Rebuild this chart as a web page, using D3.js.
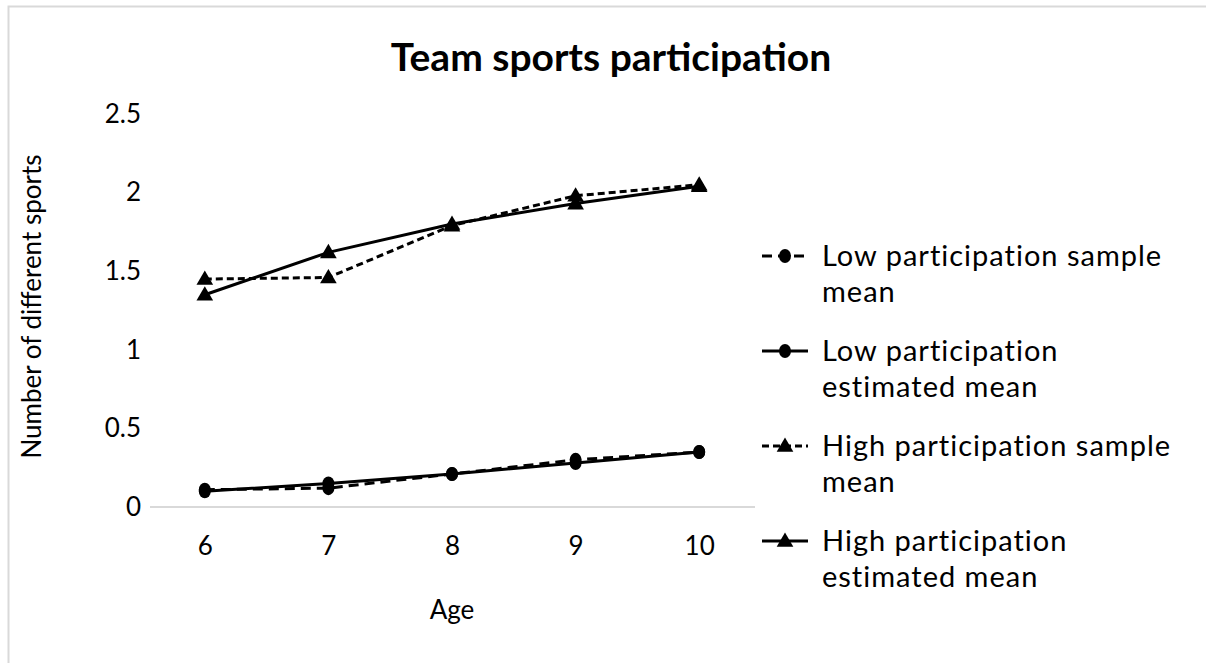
<!DOCTYPE html>
<html>
<head>
<meta charset="utf-8">
<script src="https://cdn.jsdelivr.net/npm/d3@7"></script>
<style>
  html, body { margin: 0; padding: 0; background: #fff; overflow: hidden; }
  svg { display: block; font-family: Lato, "Open Sans", sans-serif; }
</style>
</head>
<body>
<svg id="chart" width="1206" height="663"></svg>
<script>
// Ages on the x axis
const ages = ["6", "7", "8", "9", "10"];
// Mean number of different team sports per age
const lowSample = [0.11, 0.12, 0.21, 0.30, 0.35];
const lowEstimated = [0.10, 0.15, 0.21, 0.28, 0.35];
const highSample = [1.45, 1.46, 1.79, 1.98, 2.05];
const highEstimated = [1.35, 1.62, 1.80, 1.93, 2.04];
const yTicks = [0, 0.5, 1, 1.5, 2, 2.5];
const seriesNames = [
  ["Low participation sample", "mean"],
  ["Low participation", "estimated mean"],
  ["High participation sample", "mean"],
  ["High participation", "estimated mean"]
];

const series = [
  { values: lowSample, dash: "10,6", marker: "circle", name: seriesNames[0] },
  { values: lowEstimated, dash: null, marker: "circle", name: seriesNames[1] },
  { values: highSample, dash: "7,4", marker: "triangle", name: seriesNames[2] },
  { values: highEstimated, dash: null, marker: "triangle", name: seriesNames[3] }
];

const svg = d3.select("#chart");

// chart frame (runs off the right and bottom edges)
svg.append("rect")
  .attr("x", 8.5).attr("y", 6.5)
  .attr("width", 1300).attr("height", 800)
  .attr("fill", "#fff").attr("stroke", "#d9d9d9").attr("stroke-width", 2);

const plot = { left: 143, right: 761, top: 114, bottom: 507 };

const x = d3.scalePoint().domain(ages).range([plot.left, plot.right]).padding(0.5);
const y = d3.scaleLinear().domain([0, 2.5]).range([plot.bottom, plot.top]);

// title
svg.append("text")
  .attr("x", 611).attr("y", 71)
  .attr("text-anchor", "middle")
  .attr("font-size", 39).attr("font-weight", "bold")
  .attr("fill", "#000")
  .text("Team sports participation");

// y axis labels (no line)
const yAxis = d3.axisLeft(y).tickValues(yTicks).tickSize(0).tickPadding(0)
  .tickFormat(d3.format("~g"));
const gy = svg.append("g").attr("transform", `translate(${plot.left - 2},0)`).call(yAxis);
gy.select(".domain").remove();
gy.selectAll("text").attr("font-size", 26).attr("fill", "#000").attr("font-family", "Lato, sans-serif");

// x axis
const xAxis = d3.axisBottom(x).tickSize(0).tickPadding(30);
const gx = svg.append("g").attr("transform", `translate(0,${plot.bottom})`).call(xAxis);
gx.select(".domain").attr("stroke", "#d9d9d9").attr("stroke-width", 2)
  .attr("d", `M${plot.left + 7},0H${plot.right - 6}`);
gx.selectAll("text").attr("font-size", 26).attr("fill", "#000").attr("font-family", "Lato, sans-serif");

// axis titles
svg.append("text")
  .attr("x", x("8")).attr("y", 619)
  .attr("text-anchor", "middle").attr("font-size", 26)
  .text("Age");
svg.append("text")
  .attr("transform", `translate(41,${(plot.top + plot.bottom) / 2 - 4}) rotate(-90)`)
  .attr("text-anchor", "middle").attr("font-size", 26)
  .text("Number of different sports");

const line = d3.line()
  .x((d, i) => x(ages[i]))
  .y(d => y(d));

const tri = d3.symbol().type(d3.symbolTriangle).size(120);

function drawMarker(g, type, cx, cy) {
  if (type === "circle") {
    g.append("ellipse").attr("cx", cx).attr("cy", cy)
      .attr("rx", 6).attr("ry", 7).attr("fill", "#000");
  } else {
    g.append("path").attr("d", tri())
      .attr("transform", `translate(${cx},${cy + 1})`).attr("fill", "#000");
  }
}

series.forEach(s => {
  const g = svg.append("g");
  g.append("path")
    .datum(s.values)
    .attr("d", line)
    .attr("fill", "none")
    .attr("stroke", "#000")
    .attr("stroke-width", 3)
    .attr("stroke-dasharray", s.dash);
  s.values.forEach((v, i) => drawMarker(g, s.marker, x(ages[i]), y(v)));
});

// legend
const legendX = 762, legendTop = 256, entryStep = 95, lineStep = 36;
series.forEach((s, i) => {
  const ly = legendTop + i * entryStep;
  const g = svg.append("g");
  g.append("line")
    .attr("x1", legendX).attr("x2", legendX + 46)
    .attr("y1", ly).attr("y2", ly)
    .attr("stroke", "#000").attr("stroke-width", 3)
    .attr("stroke-dasharray", s.dash);
  drawMarker(g, s.marker, legendX + 23, ly);
  s.name.forEach((t, j) => {
    g.append("text")
      .attr("x", 822).attr("y", ly + j * lineStep + 10)
      .attr("font-size", 29).attr("letter-spacing", 1)
      .attr("fill", "#000")
      .text(t);
  });
});
</script>
</body>
</html>
